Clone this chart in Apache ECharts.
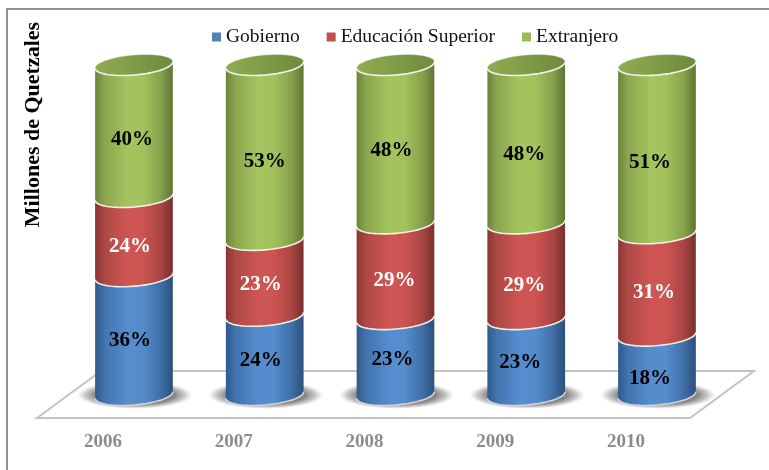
<!DOCTYPE html>
<html><head><meta charset="utf-8">
<style>html,body{margin:0;padding:0;background:#fff}#c{width:769px;height:470px}</style>
<script src="https://cdn.jsdelivr.net/npm/echarts@6/dist/echarts.min.js"></script>
</head><body><div id="c"></div>
<script>
const categories = ['2006','2007','2008','2009','2010'];
const gobierno = [36,24,23,23,18];
const educacion = [24,23,29,29,31];
const extranjero = [40,53,48,48,51];
const seriesNames = ['Gobierno','Educación Superior','Extranjero'];

// hand-placed label offsets in the original picture: [dx, dy] per series, per category
const labelNudge = [
  [[-1,-2],[-1,-2],[0,-4],[-3,-1],[-4,6]],
  [[-1,3],[-1,0],[2,2],[1,7],[0,1]],
  [[1,2],[3,2],[-1,-1],[1,3],[-4,6]]
];

const RX = 39, RY = 10, TILT = -5*Math.PI/180;
function arc(cx, cy, from, to, n){
  const pts=[];
  for(let i=0;i<=n;i++){
    const t=from+(to-from)*i/n, a=RX*Math.cos(t), b=RY*Math.sin(t);
    pts.push([cx+a*Math.cos(TILT)-b*Math.sin(TILT), cy+a*Math.sin(TILT)+b*Math.cos(TILT)]);
  }
  return pts;
}
function lg(stops){
  return {type:'linear',x:0,y:0,x2:1,y2:0,colorStops:stops.map(s=>({offset:s[0],color:s[1]}))};
}
const bodyFill = [
  lg([[0,'#2f5a8c'],[0.12,'#4273ad'],[0.42,'#558ed0'],[0.62,'#558ccb'],[0.85,'#3f6ea6'],[1,'#2b4f7b']]),
  lg([[0,'#8a3533'],[0.12,'#ad4845'],[0.42,'#cf5654'],[0.62,'#cc5451'],[0.85,'#a84543'],[1,'#7a2f2d']]),
  lg([[0,'#6b8339'],[0.12,'#8aa64e'],[0.42,'#a4c45e'],[0.62,'#a2c25d'],[0.85,'#85a04b'],[1,'#5f7532']])
];
const capFill = lg([[0,'#90ad52'],[1,'#6d8a3e']]);
const rim = '#f1f1e8';

function renderer(si){
  return function(params, api){
    const idx=api.value(0), val=api.value(1), base=api.value(2);
    const lo=api.coord([idx,base]), hi=api.coord([idx,base+val]);
    const cx=lo[0], ch=[];
    const low=arc(cx,lo[1],Math.PI,0,40), up=arc(cx,hi[1],0,Math.PI,40);
    if(si===0){
      ch.push({type:'circle',x:cx+1,y:lo[1],scaleY:0.24,z2:1,shape:{cx:0,cy:0,r:58},
        style:{fill:{type:'radial',x:0.5,y:0.5,r:0.5,colorStops:[{offset:0,color:'rgba(110,110,110,1)'},{offset:.68,color:'rgba(120,120,120,.9)'},{offset:.85,color:'rgba(150,150,150,.55)'},{offset:1,color:'rgba(190,190,190,0)'}]}}});
    }
    ch.push({type:'polygon',z2:2,shape:{points:low.concat(up)},style:{fill:bodyFill[si]}});
    ch.push({type:'polyline',z2:3,shape:{points:low},style:{fill:'none',stroke:si===0?'#d4d4d4':rim,lineWidth:1.6}});
    if(si===2){
      ch.push({type:'polygon',z2:4,shape:{points:arc(cx,hi[1],0,2*Math.PI,80)},style:{fill:capFill,stroke:'rgba(241,241,232,.45)',lineWidth:1}});
      ch.push({type:'polyline',z2:5,shape:{points:up},style:{fill:'none',stroke:rim,lineWidth:1.6}});
    }
    const n=labelNudge[si][idx];
    ch.push({type:'text',z2:6,x:cx-3+n[0],y:(lo[1]+hi[1])/2+7+n[1],
      style:{text:val+'%',font:'bold 21px "Liberation Serif"',fill:si===1?'#ffffff':'#000000',align:'center',verticalAlign:'middle'}});
    return {type:'group',children:ch};
  };
}
const stacks=[gobierno,educacion,extranjero];
const colors=['#4f81bd','#c0504d','#9bbb59'];
const series=stacks.map((vals,si)=>({
  type:'custom',name:seriesNames[si],z:3+si,
  itemStyle:{color:colors[si]},
  encode:{x:0,y:1},
  data:vals.map((v,i)=>{
    let b=0; for(let k=0;k<si;k++) b+=stacks[k][i];
    return [i,v,b];
  }),
  renderItem:renderer(si)
}));
const chart=echarts.init(document.getElementById('c'),null,{renderer:'canvas'});
chart.setOption({
  animation:false,
  backgroundColor:'#fff',
  grid:{left:68.6,top:65,width:653.75,height:330},
  xAxis:{type:'category',data:categories,axisLine:{show:false},axisTick:{show:false},splitLine:{show:false},
    axisLabel:{margin:38,padding:[0,62,0,0],color:'#8c8c8c',fontFamily:'Liberation Serif',fontWeight:'bold',fontSize:19}},
  yAxis:{type:'value',min:0,max:100,show:false},
  legend:{left:207,top:22,itemWidth:9,itemHeight:9,itemGap:27,icon:'rect',selectedMode:false,
    data:seriesNames,textStyle:{fontFamily:'Liberation Serif',fontSize:19.5,color:'#111'}},
  graphic:[
    {type:'polygon',z:1,shape:{points:[[37,418],[690,418],[754,371],[101,371]]},style:{fill:'#fff',stroke:'#c3c3c3',lineWidth:2}},
    {type:'polyline',z:0,shape:{points:[[7,470],[7,9],[769,9]]},style:{fill:'none',stroke:'#8f8f8f',lineWidth:2}},
    {type:'text',z:5,x:33,y:124.5,rotation:Math.PI/2,style:{text:'Millones de Quetzales',font:'bold 22px "Liberation Serif"',fill:'#000',align:'center',verticalAlign:'middle'}}
  ],
  series:series
});
</script></body></html>
